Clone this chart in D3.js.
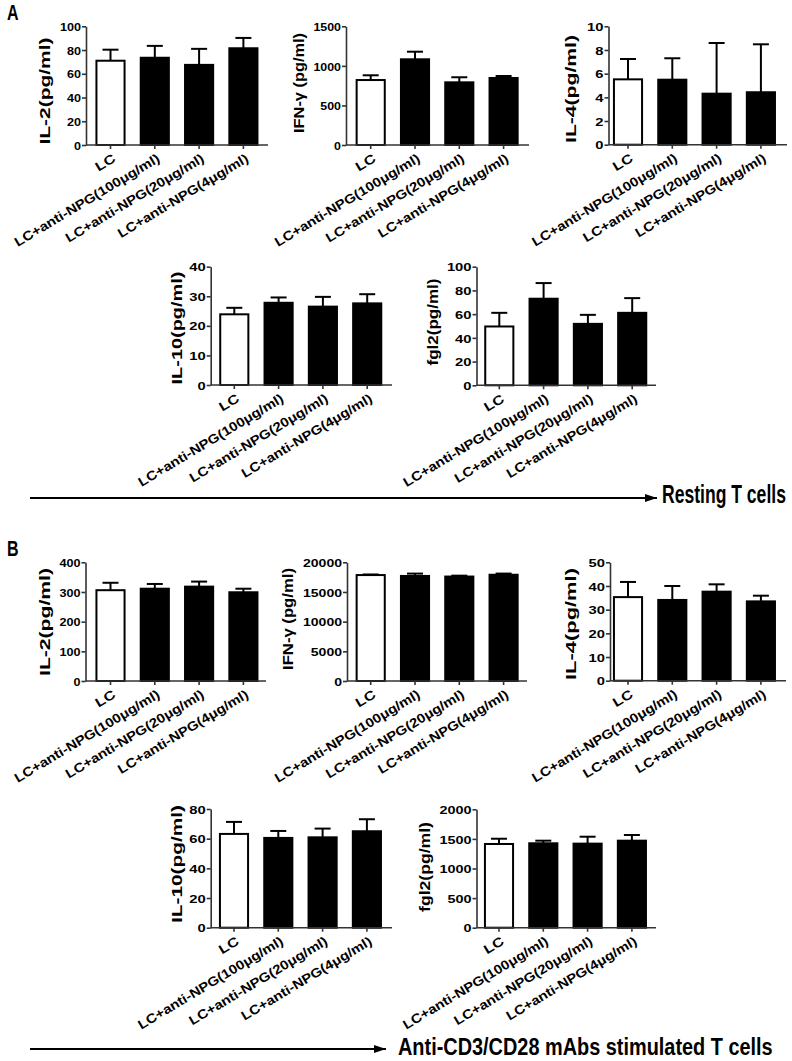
<!DOCTYPE html>
<html>
<head>
<meta charset="utf-8">
<script src="https://cdn.jsdelivr.net/npm/d3@7"></script>
<style>
  body { margin: 0; background: #fff; }
  svg { display: block; }
  text { font-family: Arial, "Liberation Sans", sans-serif; font-weight: bold; fill: #000; }
</style>
</head>
<body>
<div id="chart"></div>
<script>
var groups = ["LC", "LC+anti-NPG(100μg/ml)", "LC+anti-NPG(20μg/ml)", "LC+anti-NPG(4μg/ml)"];

// A - resting T cells (mean, error above mean)
var restIL2 = [71, 73.5, 67.5, 81.5], restIL2Err = [9.3, 10, 13.5, 8.7];
var restIFN = [821, 1083, 792, 847], restIFNErr = [60, 96, 64, 25];
var restIL4 = [5.52, 5.49, 4.31, 4.43], restIL4Err = [1.72, 1.81, 4.28, 4.05];
var restIL10 = [23.9, 27.8, 26.5, 27.6], restIL10Err = [2.2, 1.8, 3.3, 3.1];
var restFgl2 = [49.6, 73, 51.8, 61.1], restFgl2Err = [11.5, 13.2, 7.6, 12.4];

// B - anti-CD3/CD28 stimulated T cells
var stimIL2 = [306, 311, 318, 299], stimIL2Err = [25, 16, 17, 12];
var stimIFN = [17850, 17700, 17600, 17900], stimIFNErr = [100, 400, 150, 200];
var stimIL4 = [35.3, 34.1, 37.6, 33.5], stimIL4Err = [6.4, 5.9, 3.1, 2.4];
var stimIL10 = [63.2, 60.5, 60.9, 65], stimIL10Err = [8.1, 4.7, 5.9, 8.1];
var stimFgl2 = [1414, 1426, 1420, 1470], stimFgl2Err = [89, 44, 117, 96];

// y tick labels
var ticksIL2A = [0, 20, 40, 60, 80, 100];
var ticksIFNA = [0, 500, 1000, 1500];
var ticksIL4A = [0, 2, 4, 6, 8, 10];
var ticksIL10A = [0, 10, 20, 30, 40];
var ticksFgl2A = [0, 20, 40, 60, 80, 100];
var ticksIL2B = [0, 100, 200, 300, 400];
var ticksIFNB = [0, 5000, 10000, 15000, 20000];
var ticksIL4B = [0, 10, 20, 30, 40, 50];
var ticksIL10B = [0, 20, 40, 60, 80];
var ticksFgl2B = [0, 500, 1000, 1500, 2000];

var W = 792, H = 1061;
var step = 44.3;
// drawn length of each rotated group label (the figure is stretched, so force it)
var catLen = [21, 167, 159, 150];

var svg = d3.select("#chart").append("svg")
  .attr("width", W)
  .attr("height", H);

// scale factor that brings a text node to a wanted length
function stretch(node, len) {
  var n = node.getComputedTextLength();
  return n > 0 ? len / n : 1;
}

// one entry per small chart: data + where it sits
var panels = [
  {title: "IL-2(pg/ml)", mean: restIL2, err: restIL2Err, ticks: ticksIL2A,
   ax: 86, c1: 110.5, aEnd: 268, top: 26.3, bot: 145, labX: 46, labY: 91, labLen: 107, digitW: 7},
  {title: "IFN-γ (pg/ml)", mean: restIFN, err: restIFNErr, ticks: ticksIFNA,
   ax: 346, c1: 370.7, aEnd: 529, top: 26.3, bot: 145, labX: 300, labY: 83, labLen: 100, digitW: 6.9},
  {title: "IL-4(pg/ml)", mean: restIL4, err: restIL4Err, ticks: ticksIL4A,
   ax: 608.5, c1: 628, aEnd: 787, top: 26.3, bot: 144.7, labX: 572, labY: 89, labLen: 108, digitW: 8.2},
  {title: "IL-10(pg/ml)", mean: restIL10, err: restIL10Err, ticks: ticksIL10A,
   ax: 210.7, c1: 234.3, aEnd: 392, top: 266.7, bot: 385, labX: 178, labY: 328, labLen: 113, digitW: 8.2},
  {title: "fgl2(pg/ml)", mean: restFgl2, err: restFgl2Err, ticks: ticksFgl2A,
   ax: 476.5, c1: 499.3, aEnd: 656, top: 266.7, bot: 385.3, labX: 434, labY: 322, labLen: 87, digitW: 8.2},
  {title: "IL-2(pg/ml)", mean: stimIL2, err: stimIL2Err, ticks: ticksIL2B,
   ax: 85.5, c1: 110.5, aEnd: 266, top: 562.3, bot: 681, labX: 46, labY: 622, labLen: 108, digitW: 7},
  {title: "IFN-γ (pg/ml)", mean: stimIFN, err: stimIFNErr, ticks: ticksIFNB,
   ax: 347, c1: 370.7, aEnd: 527, top: 562.3, bot: 681, labX: 289, labY: 619, labLen: 102, digitW: 7.8},
  {title: "IL-4(pg/ml)", mean: stimIL4, err: stimIL4Err, ticks: ticksIL4B,
   ax: 610, c1: 628, aEnd: 786, top: 562.3, bot: 680.7, labX: 572, labY: 624, labLen: 112, digitW: 8.2},
  {title: "IL-10(pg/ml)", mean: stimIL10, err: stimIL10Err, ticks: ticksIL10B,
   ax: 210.7, c1: 234, aEnd: 392, top: 809, bot: 927.7, labX: 178, labY: 864, labLen: 118, digitW: 8.2},
  {title: "fgl2(pg/ml)", mean: stimFgl2, err: stimFgl2Err, ticks: ticksFgl2B,
   ax: 476.5, c1: 499, aEnd: 656, top: 809.3, bot: 927.7, labX: 426, labY: 867, labLen: 90, digitW: 8}
];

panels.forEach(function(p) {
  var g = svg.append("g");
  var rows = groups.map(function(name, i) {
    return {name: name, mean: p.mean[i], err: p.err[i], i: i};
  });

  var x = d3.scaleBand()
    .domain(groups)
    .range([p.c1 - step / 2, p.c1 - step / 2 + step * groups.length])
    .paddingInner(0.32)
    .paddingOuter(0.16);

  var y = d3.scaleLinear()
    .domain([0, p.ticks[p.ticks.length - 1]])
    .range([p.bot, p.top]);

  var cx = function(d) { return x(d.name) + x.bandwidth() / 2; };

  // error bars first (only the part above the bar is visible anyway)
  g.selectAll("line.whisker")
    .data(rows)
    .enter().append("line")
    .attr("class", "whisker")
    .attr("x1", cx).attr("x2", cx)
    .attr("y1", function(d) { return y(d.mean); })
    .attr("y2", function(d) { return y(d.mean + d.err); })
    .attr("stroke", "#000")
    .attr("stroke-width", 2);

  g.selectAll("line.cap")
    .data(rows)
    .enter().append("line")
    .attr("class", "cap")
    .attr("x1", function(d) { return cx(d) - 8; })
    .attr("x2", function(d) { return cx(d) + 8; })
    .attr("y1", function(d) { return y(d.mean + d.err); })
    .attr("y2", function(d) { return y(d.mean + d.err); })
    .attr("stroke", "#000")
    .attr("stroke-width", 2);

  g.selectAll("rect.bar")
    .data(rows)
    .enter().append("rect")
    .attr("class", "bar")
    .attr("x", function(d) { return x(d.name) + 1; })
    .attr("width", x.bandwidth() - 2)
    .attr("y", function(d) { return y(d.mean); })
    .attr("height", function(d) { return y(0) - y(d.mean); })
    .attr("fill", function(d) { return d.i === 0 ? "#fff" : "#000"; })
    .attr("stroke", "#000")
    .attr("stroke-width", 2);

  // y axis
  var yAxis = g.append("g")
    .attr("transform", "translate(" + p.ax + ",0)")
    .call(d3.axisLeft(y).tickValues(p.ticks).tickFormat(d3.format("d"))
      .tickSize(4).tickSizeOuter(0).tickPadding(1));
  yAxis.select(".domain").attr("stroke", "#333").attr("stroke-width", 1.6);
  yAxis.selectAll(".tick line").attr("stroke", "#333").attr("stroke-width", 1.6);
  yAxis.selectAll(".tick text")
    .style("font-size", "11.5px")
    .attr("fill", "#000")
    .attr("dy", "0.36em")
    .attr("textLength", function(d) { return String(d).length * p.digitW; })
    .attr("lengthAdjust", "spacingAndGlyphs");

  // x axis: line from the y axis, ticks at bar centres
  g.append("line")
    .attr("x1", p.ax).attr("x2", p.aEnd)
    .attr("y1", p.bot).attr("y2", p.bot)
    .attr("stroke", "#333")
    .attr("stroke-width", 1.6);

  var xAxis = g.append("g")
    .attr("transform", "translate(0," + p.bot + ")")
    .call(d3.axisBottom(x).tickSize(4).tickFormat(""));
  xAxis.select(".domain").remove();
  xAxis.selectAll(".tick line").attr("stroke", "#333").attr("stroke-width", 1.6);

  g.selectAll("text.cat")
    .data(rows)
    .enter().append("text")
    .attr("class", "cat")
    .attr("text-anchor", "end")
    .style("font-size", "13px")
    .text(function(d) { return d.name; })
    .attr("transform", function(d) {
      var sx = stretch(this, catLen[d.i]);
      return "translate(" + (cx(d) + 6) + "," + (p.bot + 16) + ") rotate(-31) scale(" + sx + ",1)";
    });

  g.append("text")
    .attr("text-anchor", "middle")
    .style("font-size", "15px")
    .text(p.title)
    .attr("transform", function() {
      var sx = stretch(this, p.labLen);
      return "translate(" + (p.labX + 4) + "," + p.labY + ") rotate(-90) scale(" + sx + ",1)";
    });
});

// panel letters
[["A", 20], ["B", 556]].forEach(function(l) {
  svg.append("text")
    .style("font-size", "16px")
    .text(l[0])
    .attr("transform", "translate(7," + l[1] + ") scale(1,1.35)");
});

// arrows along the bottom of each panel
var defs = svg.append("defs");
defs.append("marker")
  .attr("id", "head")
  .attr("viewBox", "0 0 12 8")
  .attr("refX", 12).attr("refY", 4)
  .attr("markerWidth", 12).attr("markerHeight", 8)
  .attr("markerUnits", "userSpaceOnUse")
  .attr("orient", "auto")
  .append("path")
  .attr("d", "M0,0 L12,4 L0,8 Z")
  .attr("fill", "#000");

var arrows = [
  {x1: 30, x2: 657, y: 498, label: "Resting T cells", tx: 662, ty: 503, len: 124, cap: 18},
  {x1: 30, x2: 386, y: 1049, label: "Anti-CD3/CD28 mAbs stimulated T cells", tx: 398, ty: 1055, len: 375, cap: 17}
];

arrows.forEach(function(a) {
  svg.append("line")
    .attr("x1", a.x1).attr("x2", a.x2)
    .attr("y1", a.y).attr("y2", a.y)
    .attr("stroke", "#000")
    .attr("stroke-width", 2)
    .attr("marker-end", "url(#head)");
  var t = svg.append("text")
    .style("font-size", "18px")
    .text(a.label);
  // pick the size from the wanted width, then stretch it upward to the wanted cap height
  var fs = 18 * stretch(t.node(), a.len);
  var sy = a.cap / (0.716 * fs);
  t.style("font-size", fs + "px")
    .attr("transform", "translate(" + a.tx + "," + a.ty + ") scale(1," + sy + ")");
});
</script>
</body>
</html>
